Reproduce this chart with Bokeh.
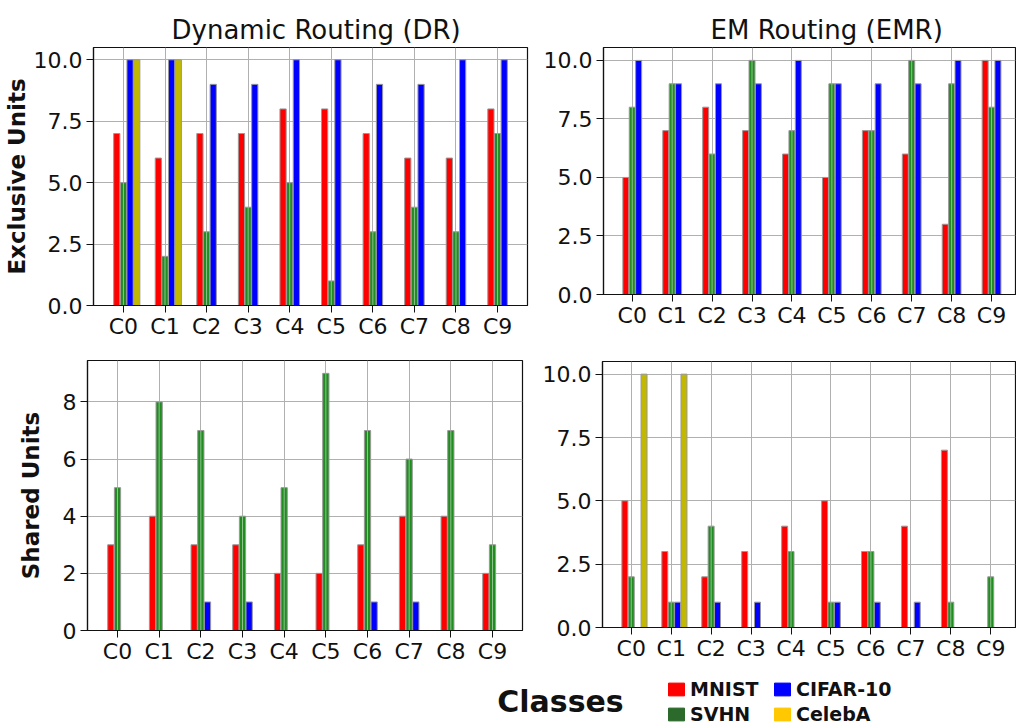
import numpy as np
from bokeh.plotting import figure
from bokeh.layouts import column, row
from bokeh.models import (Range1d, FixedTicker, Title, NumeralTickFormatter,
                          Legend, LegendItem, Label)
from bokeh.embed import file_html
from bokeh.resources import INLINE

# ---------------- data ----------------
classes = ["C0", "C1", "C2", "C3", "C4", "C5", "C6", "C7", "C8", "C9"]
series_names = ["MNIST", "SVHN", "CIFAR-10", "CelebA"]
bar_colors = ["#ff0000", "#228b22", "#0000ff", "#c2b800"]
legend_colors = ["#ff0000", "#2b6a2b", "#0000ff", "#ffc800"]

# Dynamic Routing - exclusive units
dr_excl_mnist = [7, 6, 7, 7, 8, 8, 7, 6, 6, 8]
dr_excl_svhn = [5, 2, 3, 4, 5, 1, 3, 4, 3, 7]
dr_excl_cifar = [10, 10, 9, 9, 10, 10, 9, 9, 10, 10]
dr_excl_celeba = [10, 10, 0, 0, 0, 0, 0, 0, 0, 0]

# EM Routing - exclusive units
emr_excl_mnist = [5, 7, 8, 7, 6, 5, 7, 6, 3, 10]
emr_excl_svhn = [8, 9, 6, 10, 7, 9, 7, 10, 9, 8]
emr_excl_cifar = [10, 9, 9, 9, 10, 9, 9, 9, 10, 10]
emr_excl_celeba = [0, 0, 0, 0, 0, 0, 0, 0, 0, 0]

# Dynamic Routing - shared units
dr_shared_mnist = [3, 4, 3, 3, 2, 2, 3, 4, 4, 2]
dr_shared_svhn = [5, 8, 7, 4, 5, 9, 7, 6, 7, 3]
dr_shared_cifar = [0, 0, 1, 1, 0, 0, 1, 1, 0, 0]
dr_shared_celeba = [0, 0, 0, 0, 0, 0, 0, 0, 0, 0]

# EM Routing - shared units
emr_shared_mnist = [5, 3, 2, 3, 4, 5, 3, 4, 7, 0]
emr_shared_svhn = [2, 1, 4, 0, 3, 1, 3, 0, 1, 2]
emr_shared_cifar = [0, 1, 1, 1, 0, 1, 1, 1, 0, 0]
emr_shared_celeba = [10, 10, 0, 0, 0, 0, 0, 0, 0, 0]

ticks_exclusive = [0, 2.5, 5, 7.5, 10]
ticks_shared_dr = [0, 2, 4, 6, 8]

offsets = [-0.16, 0.0, 0.16, 0.32]
BAR_W = 0.15
FONT = "DejaVu Sans"


def make_panel(series, width, height, b_left, b_right, b_top, b_bottom,
               x_end, y_end, yticks, yfmt, title=None, title_offset=0,
               ylabel=None, ylabel_standoff=2):
    p = figure(width=width, height=height, output_backend="svg",
               toolbar_location=None,
               x_range=Range1d(-0.72, x_end), y_range=Range1d(0, y_end),
               min_border_left=b_left, min_border_right=b_right,
               min_border_top=b_top, min_border_bottom=b_bottom)
    p.background_fill_color = "white"
    p.border_fill_color = "white"
    p.outline_line_color = "#111111"
    p.outline_line_width = 1.2
    if title is not None:
        p.title.text = title
        p.title.text_font = FONT
        p.title.text_font_size = "26px"
        p.title.text_font_style = "normal"
        p.title.align = "left"
        p.title.offset = title_offset
        p.title.text_color = "#111111"
        p.title.standoff = 6
    if ylabel is not None:
        p.add_layout(Title(text=ylabel, align="center", text_font=FONT,
                           text_font_size="23px", text_font_style="bold",
                           text_color="#111111", standoff=ylabel_standoff),
                     "left")

    x = np.arange(len(classes))
    for vals, off, col in zip(series, offsets, bar_colors):
        p.vbar(x=x + off, top=vals, width=BAR_W, bottom=0,
               fill_color=col, line_color="#999999", line_width=1)
    # light centre stripe of the SVHN bars
    sv = np.array(series[1], dtype=float)
    xs = x + offsets[1]
    mask = sv > 0
    p.segment(x0=xs[mask], y0=np.zeros(mask.sum()), x1=xs[mask], y1=sv[mask],
              line_color="#8cc48c", line_width=1)

    p.xaxis.ticker = FixedTicker(ticks=list(range(len(classes))))
    p.xaxis.major_label_overrides = {i: c for i, c in enumerate(classes)}
    p.yaxis.ticker = FixedTicker(ticks=yticks)
    if yfmt:
        p.yaxis.formatter = NumeralTickFormatter(format=yfmt)
    for ax in (p.xaxis, p.yaxis):
        ax.major_label_text_font = FONT
        ax.major_label_text_font_size = "22px"
        ax.major_label_text_color = "#111111"
        ax.axis_line_color = "#111111"
        ax.axis_line_width = 1.2
        ax.major_tick_line_color = "#111111"
        ax.major_tick_out = 7
        ax.major_tick_in = 0
        ax.minor_tick_line_color = None
        ax.major_label_standoff = 4
    p.xaxis.major_label_standoff = 1
    p.grid.grid_line_color = "#b0b0b0"
    p.grid.grid_line_width = 1
    return p


p_tl = make_panel([dr_excl_mnist, dr_excl_svhn, dr_excl_cifar, dr_excl_celeba],
                  width=537, height=342, b_left=92, b_right=10, b_top=47, b_bottom=37,
                  x_end=9.72, y_end=10.5, yticks=ticks_exclusive, yfmt="0.0",
                  title="Dynamic Routing (DR)", title_offset=78,
                  ylabel="Exclusive Units")
p_tr = make_panel([emr_excl_mnist, emr_excl_svhn, emr_excl_cifar, emr_excl_celeba],
                  width=479, height=342, b_left=66, b_right=1, b_top=47, b_bottom=48,
                  x_end=9.6, y_end=10.55, yticks=ticks_exclusive, yfmt="0.0",
                  title="EM Routing (EMR)", title_offset=107)
p_bl = make_panel([dr_shared_mnist, dr_shared_svhn, dr_shared_cifar, dr_shared_celeba],
                  width=537, height=328, b_left=87, b_right=15, b_top=18, b_bottom=40,
                  x_end=9.72, y_end=9.45, yticks=ticks_shared_dr, yfmt=None,
                  ylabel="Shared Units", ylabel_standoff=31)
p_br = make_panel([emr_shared_mnist, emr_shared_svhn, emr_shared_cifar, emr_shared_celeba],
                  width=479, height=328, b_left=65, b_right=1, b_top=19, b_bottom=43,
                  x_end=9.62, y_end=10.5, yticks=ticks_exclusive, yfmt="0.0")

# ---------------- legend strip ----------------
leg = figure(width=1016, height=57, output_backend="svg", toolbar_location=None,
             x_range=Range1d(0, 1016), y_range=Range1d(0, 57),
             min_border=0, min_border_left=0, min_border_right=0,
             min_border_top=0, min_border_bottom=0)
leg.axis.visible = False
leg.grid.visible = False
leg.outline_line_color = None
leg.background_fill_color = "white"
leg.border_fill_color = "white"

items = []
for name, col in zip(series_names, legend_colors):
    r = leg.quad(left=[-20], right=[-10], bottom=[-20], top=[-10],
                 fill_color=col, line_color=col)
    items.append(LegendItem(label=name, renderers=[r]))

legend = Legend(items=items, orientation="vertical", nrows=2,
                location=(666, 1), glyph_width=20, glyph_height=16,
                label_text_font=FONT, label_text_font_size="19px",
                label_text_font_style="bold", label_text_color="#111111",
                label_standoff=4, label_width=81, label_height=24,
                spacing=1, padding=0, margin=0,
                border_line_color=None, background_fill_alpha=0)
leg.add_layout(legend, "center")

leg.add_layout(Label(x=560, y=26, x_units="screen", y_units="screen",
                     text="Classes", text_align="center", text_baseline="middle",
                     text_font=FONT, text_font_size="30px",
                     text_font_style="bold", text_color="#111111"))

layout = column(row(column(p_tl), column(p_tr)), row(column(p_bl), column(p_br)), leg)
open("out.html", "w").write(file_html(layout, INLINE))
